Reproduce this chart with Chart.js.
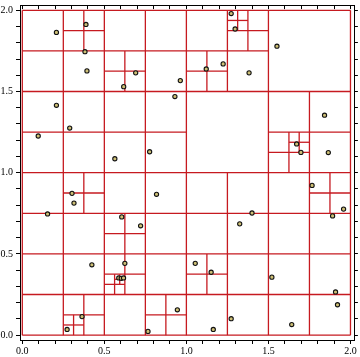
<!DOCTYPE html>
<html><head><meta charset="utf-8">
<script src="https://cdn.jsdelivr.net/npm/chart.js@4.4.1/dist/chart.umd.min.js"></script>
<style>html,body{margin:0;padding:0;background:#fff}canvas{display:block}</style>
</head><body>
<canvas id="c" width="360" height="357" style="width:360px;height:357px"></canvas>
<script>
// Quadtree cells that were subdivided: [x0, y0, size]
const splitCells = [
  [0,0,2],
  [0,1,1],[1,1,1],[0,0,1],[1,0,1],
  // top-left
  [0,1.5,0.5],[0.25,1.75,0.25],
  [0.5,1.5,0.5],[0.5,1.5,0.25],
  [0,1,0.5],[0.5,1,0.5],
  // top-right
  [1,1.5,0.5],[1.25,1.75,0.25],[1.25,1.875,0.125],[1,1.5,0.25],
  [1.5,1,0.5],[1.5,1,0.25],[1.625,1.125,0.125],
  // bottom-left
  [0,0.5,0.5],[0.25,0.75,0.25],
  [0.5,0.5,0.5],[0.5,0.5,0.25],
  [0,0,0.5],[0.25,0,0.25],[0.25,0,0.125],
  [0.5,0,0.5],[0.5,0.25,0.25],[0.5,0.25,0.125],[0.5625,0.3125,0.0625],[0.75,0,0.25],
  // bottom-right
  [1,0.5,0.5],[1.5,0.5,0.5],[1.75,0.75,0.25],
  [1,0,0.5],[1,0.25,0.25],[1.5,0,0.5]
];
const rootCell = [0,0,2];

const pointX = [0.208,0.388,0.382,0.394,0.691,0.618,0.963,0.930,0.208,0.289,0.097,0.564,0.776,
  1.273,1.297,1.121,1.224,1.382,1.552,1.842,1.672,1.698,1.865,
  0.303,0.315,0.154,0.818,0.606,0.721,0.424,0.273,0.364,0.625,0.588,0.603,0.617,0.766,0.945,
  1.400,1.325,1.766,1.958,1.891,1.054,1.151,1.164,1.273,1.521,1.909,1.642,1.921];
const pointY = [1.864,1.913,1.745,1.627,1.615,1.530,1.567,1.469,1.415,1.275,1.226,1.086,1.129,
  1.980,1.885,1.639,1.670,1.615,1.779,1.354,1.177,1.125,1.124,
  0.873,0.813,0.746,0.867,0.728,0.673,0.433,0.035,0.114,0.442,0.352,0.350,0.352,0.023,0.156,
  0.752,0.685,0.922,0.776,0.734,0.442,0.387,0.035,0.101,0.357,0.266,0.065,0.187];

const majorTicks = [0,0.5,1,1.5,2];
const majorLabels = ["0.0","0.5","1.0","1.5","2.0"];
const minorCount = 20; // ticks every 0.1 from 0 to 2

const tickValues = [];
for (let i = 0; i <= minorCount; i++) tickValues.push(i / 10);

const RED = 'rgb(198,26,32)';
const datasets = [];
datasets.push({
  data: pointX.map((x,i)=>({x, y: pointY[i]})),
  pointRadius: 2.1,
  pointBackgroundColor: 'rgb(206,192,118)',
  pointBorderColor: '#111',
  pointBorderWidth: 1.1,
  showLine: false,
  order: 0
});
function seg(a,b){
  datasets.push({data:[a,b], showLine:true, borderColor:RED, borderWidth:1.3,
    pointRadius:0, pointHoverRadius:0, fill:false, order:1});
}
{
  const [x0,y0,s] = rootCell;
  seg({x:x0,y:y0},{x:x0+s,y:y0});
  seg({x:x0+s,y:y0},{x:x0+s,y:y0+s});
  seg({x:x0+s,y:y0+s},{x:x0,y:y0+s});
  seg({x:x0,y:y0+s},{x:x0,y:y0});
}
splitCells.forEach(([x0,y0,s])=>{
  seg({x:x0+s/2,y:y0},{x:x0+s/2,y:y0+s});
  seg({x:x0,y:y0+s/2},{x:x0+s,y:y0+s/2});
});

function labelFor(v){
  const i = majorTicks.findIndex(m=>Math.abs(m-v)<1e-9);
  return i>=0 ? majorLabels[i] : '';
}
const FONT = {family:'"Liberation Serif","DejaVu Serif",serif', size:10};
function setTicks(scale){ scale.ticks = tickValues.map(v=>({value:v})); }

const XMIN=-0.014, XMAX=2.027, YMIN=-0.030, YMAX=2.032;

new Chart(document.getElementById('c'), {
  type:'scatter',
  data:{datasets},
  options:{
    responsive:false, animation:false,
    layout:{padding:0},
    plugins:{legend:{display:false}, tooltip:{enabled:false}},
    scales:{
      x:{type:'linear', position:'bottom', min:XMIN, max:XMAX,
        afterBuildTicks:setTicks,
        afterFit:(s)=>{s.height=17; s.paddingLeft=0; s.paddingRight=0;},
        ticks:{callback:labelFor, autoSkip:false, maxRotation:0, padding:1, color:'#000', font:FONT},
        grid:{drawOnChartArea:false, drawTicks:true, tickLength:4, tickColor:'#000', tickWidth:1},
        border:{display:true, color:'#000', width:1}},
      y:{type:'linear', position:'left', min:YMIN, max:YMAX,
        afterBuildTicks:setTicks,
        afterFit:(s)=>{s.width=20; s.paddingTop=0; s.paddingBottom=0;},
        ticks:{callback:labelFor, autoSkip:false, padding:3, color:'#000', font:FONT},
        grid:{drawOnChartArea:false, drawTicks:true, tickLength:4, tickColor:'#000', tickWidth:1},
        border:{display:true, color:'#000', width:1}},
      x2:{type:'linear', position:'top', min:XMIN, max:XMAX,
        afterBuildTicks:setTicks,
        afterFit:(s)=>{s.height=1; s.paddingLeft=0; s.paddingRight=0;},
        ticks:{display:false},
        grid:{drawOnChartArea:false, drawTicks:true, tickLength:-4, tickColor:'#000', tickWidth:1},
        border:{display:true, color:'#000', width:1}},
      y2:{type:'linear', position:'right', min:YMIN, max:YMAX,
        afterBuildTicks:setTicks,
        afterFit:(s)=>{s.width=3; s.paddingTop=0; s.paddingBottom=0;},
        ticks:{display:false},
        grid:{drawOnChartArea:false, drawTicks:true, tickLength:3, tickColor:'#000', tickWidth:1},
        border:{display:true, color:'#000', width:1}}
    }
  }
});
</script>
</body></html>
